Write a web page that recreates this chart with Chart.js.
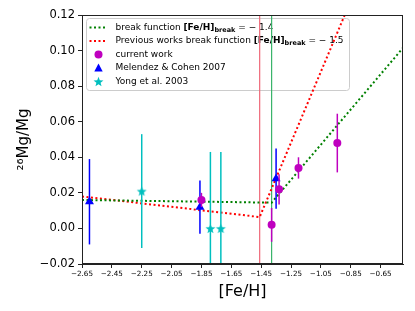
<!DOCTYPE html>
<html>
<head>
<meta charset="utf-8">
<script src="https://cdn.jsdelivr.net/npm/chart.js@4.4.1/dist/chart.umd.min.js"></script>
<style>
  body { margin: 0; background: #fff; }
</style>
</head>
<body>
<canvas id="mgChart" width="415" height="311"></canvas>
<script>
// values
const xTicks = [-2.65, -2.45, -2.25, -2.05, -1.85, -1.65, -1.45, -1.25, -1.05, -0.85, -0.65];
const yTicks = [-0.02, 0.00, 0.02, 0.04, 0.06, 0.08, 0.10, 0.12];
const xMin = -2.65, xMax = -0.5;

const currentX = [-1.85, -1.38, -1.33, -1.20, -0.94];
const currentY = [0.016, 0.002, 0.022, 0.034, 0.048];
const currentErr = [0.004, 0.0095, 0.0085, 0.006, 0.0165];

const melendezX = [-2.60, -1.86, -1.35];
const melendezY = [0.015, 0.012, 0.028];
const melendezErr = [0.024, 0.015, 0.017];

const yongX = [-2.25, -1.79, -1.72];
const yongY = [0.021, 0.000, 0.000];
const yongErr = [0.032, 0.043, 0.043];

const breakX = [-2.65, -1.38, -0.50];
const breakY = [0.016, 0.0145, 0.1015];
const prevX = [-2.65, -1.46, -0.85];
const prevY = [0.018, 0.0064, 0.128];

const breakLines = [-1.46, -1.38];

function pts(xs, ys) { return xs.map((x, i) => ({ x: x, y: ys[i] })); }

function makeStar(color, rOut, rIn) {
    const c = document.createElement('canvas');
    const s = Math.ceil(rOut * 2) + 2;
    c.width = s; c.height = s;
    const g = c.getContext('2d');
    g.beginPath();
    for (let i = 0; i < 10; i++) {
        const r = i % 2 ? rIn : rOut;
        const a = -Math.PI / 2 + i * Math.PI / 5;
        const px = s / 2 + r * Math.cos(a), py = s / 2 + r * Math.sin(a) + 0.5;
        if (i === 0) g.moveTo(px, py); else g.lineTo(px, py);
    }
    g.closePath();
    g.fillStyle = color;
    g.fill();
    return c;
}
const starImg = makeStar('#00bfbf', 5.2, 2.2);

function fmt(v) {
    const s = Math.abs(v).toFixed(2);
    return v < -1e-9 ? '\u2212' + s : s;
}

// vertical error bars, drawn under each dataset's markers
const errorBars = {
    id: 'errorBars',
    beforeDatasetDraw(chart, args) {
        const ds = chart.data.datasets[args.index];
        if (!ds.errors) return;
        const ctx = chart.ctx, area = chart.chartArea;
        const xs = chart.scales.x, ys = chart.scales.y;
        ctx.save();
        ctx.beginPath();
        ctx.rect(area.left, area.top, area.right - area.left, area.bottom - area.top);
        ctx.clip();
        ctx.strokeStyle = ds.backgroundColor;
        ctx.lineWidth = 1.5;
        ds.data.forEach((p, i) => {
            const px = xs.getPixelForValue(p.x);
            ctx.beginPath();
            ctx.moveTo(px, ys.getPixelForValue(p.y - ds.errors[i]));
            ctx.lineTo(px, ys.getPixelForValue(p.y + ds.errors[i]));
            ctx.stroke();
        });
        ctx.restore();
    }
};

// legend with the mixed bold / subscript labels, under the data like in the figure
const legendBox = {
    id: 'legendBox',
    beforeDatasetsDraw(chart) {
        const ctx = chart.ctx, a = chart.chartArea;
        ctx.save();
        const bx = a.left + 4.5, by = a.top + 3.5, bw = 263, bh = 72;
        ctx.fillStyle = 'rgba(255,255,255,0.8)';
        ctx.strokeStyle = '#cccccc';
        ctx.lineWidth = 1;
        ctx.beginPath();
        ctx.roundRect(bx, by, bw, bh, 3);
        ctx.fill();
        ctx.stroke();

        const fam = '"DejaVu Sans", sans-serif';
        const rows = [
            { kind: 'line', color: '#008000', parts: [['break function ', 0], ['[Fe/H]', 1], ['break', 2], [' = \u2212 1.4', 0]] },
            { kind: 'line', color: '#ff0000', parts: [['Previous works break function ', 0], ['[Fe/H]', 1], ['break', 2], [' = \u2212 1.5', 0]] },
            { kind: 'circle', color: '#bf00bf', parts: [['current work', 0]] },
            { kind: 'triangle', color: '#0000ff', parts: [['Melendez & Cohen 2007', 0]] },
            { kind: 'star', color: '#00bfbf', parts: [['Yong et al. 2003', 0]] }
        ];
        const sx0 = bx + 3, sx1 = bx + 21, mx = bx + 12, tx = bx + 29;
        rows.forEach((r, i) => {
            const y = by + 9 + i * 13.5;
            if (r.kind === 'line') {
                ctx.strokeStyle = r.color;
                ctx.lineWidth = 2;
                ctx.setLineDash([2, 2.5]);
                ctx.beginPath();
                ctx.moveTo(sx0, y); ctx.lineTo(sx1, y);
                ctx.stroke();
                ctx.setLineDash([]);
            } else if (r.kind === 'circle') {
                ctx.fillStyle = r.color;
                ctx.beginPath();
                ctx.arc(mx, y, 4, 0, Math.PI * 2);
                ctx.fill();
            } else if (r.kind === 'triangle') {
                ctx.fillStyle = r.color;
                ctx.beginPath();
                ctx.moveTo(mx, y - 4.5);
                ctx.lineTo(mx + 4.2, y + 3.5);
                ctx.lineTo(mx - 4.2, y + 3.5);
                ctx.closePath();
                ctx.fill();
            } else {
                ctx.drawImage(starImg, mx - starImg.width / 2, y - starImg.height / 2);
            }
            let x = tx;
            ctx.fillStyle = '#000';
            ctx.textBaseline = 'middle';
            r.parts.forEach(([t, style]) => {
                let dy = 0;
                if (style === 0) ctx.font = '9px ' + fam;
                else if (style === 1) ctx.font = 'bold 9px ' + fam;
                else { ctx.font = 'bold 6.5px ' + fam; dy = 2.5; }
                ctx.fillText(t, x, y + dy);
                x += ctx.measureText(t).width;
            });
        });
        ctx.restore();
    },
    afterDraw(chart) {
        const ctx = chart.ctx, a = chart.chartArea;
        ctx.save();
        ctx.strokeStyle = '#222';
        ctx.lineWidth = 1;
        ctx.strokeRect(a.left + 0.5, a.top + 0.5, a.right - a.left - 1, a.bottom - a.top - 1);
        ctx.restore();
    }
};

const ctx = document.getElementById('mgChart');
new Chart(ctx, {
    type: 'scatter',
    data: {
        datasets: [
            {
                label: 'current work',
                data: pts(currentX, currentY),
                errors: currentErr,
                backgroundColor: '#bf00bf',
                borderColor: '#bf00bf',
                pointStyle: 'circle',
                pointRadius: 4,
                borderWidth: 0,
                order: 1
            },
            {
                label: 'Melendez & Cohen 2007',
                data: pts(melendezX, melendezY),
                errors: melendezErr,
                backgroundColor: '#0000ff',
                borderColor: '#0000ff',
                pointStyle: 'triangle',
                pointRadius: 5.2,
                borderWidth: 0,
                order: 2
            },
            {
                label: 'Yong et al. 2003',
                data: pts(yongX, yongY),
                errors: yongErr,
                backgroundColor: '#00bfbf',
                borderColor: '#00bfbf',
                pointStyle: starImg,
                order: 3
            },
            {
                label: 'break function',
                data: pts(breakX, breakY),
                showLine: true,
                borderColor: '#008000',
                borderWidth: 2,
                borderDash: [2, 2.5],
                pointRadius: 0,
                order: 4
            },
            {
                label: 'previous break function',
                data: pts(prevX, prevY),
                showLine: true,
                borderColor: '#ff0000',
                borderWidth: 2,
                borderDash: [2, 2.5],
                pointRadius: 0,
                order: 5
            },
            {
                label: 'previous break',
                data: [{ x: breakLines[0], y: yTicks[0] }, { x: breakLines[0], y: yTicks[yTicks.length - 1] }],
                showLine: true,
                borderColor: 'rgb(238,104,120)',
                borderWidth: 1.2,
                pointRadius: 0,
                order: 6
            },
            {
                label: 'break',
                data: [{ x: breakLines[1], y: yTicks[0] }, { x: breakLines[1], y: yTicks[yTicks.length - 1] }],
                showLine: true,
                borderColor: 'rgb(56,180,106)',
                borderWidth: 1.2,
                pointRadius: 0,
                order: 7
            }
        ]
    },
    options: {
        responsive: false,
        animation: false,
        devicePixelRatio: 1,
        layout: { padding: { left: 0, right: 12, top: 15, bottom: 0 } },
        plugins: {
            legend: { display: false },
            tooltip: { enabled: false }
        },
        scales: {
            x: {
                type: 'linear',
                min: xMin,
                max: xMax,
                afterBuildTicks: s => { s.ticks = xTicks.map(v => ({ value: v })); },
                afterFit: s => { s.height = 47; },
                ticks: {
                    callback: v => fmt(v),
                    color: '#000',
                    font: { family: '"DejaVu Sans"', size: 7.2 },
                    padding: 2,
                    maxRotation: 0,
                    autoSkip: false
                },
                grid: { drawOnChartArea: false, drawTicks: true, tickLength: 4, color: '#222' },
                border: { display: true, color: '#222' },
                title: {
                    display: true,
                    text: '[Fe/H]',
                    color: '#000',
                    font: { family: '"DejaVu Sans"', size: 16 },
                    padding: { top: 0, bottom: 10 }
                }
            },
            y: {
                type: 'linear',
                min: yTicks[0],
                max: yTicks[yTicks.length - 1],
                afterBuildTicks: s => { s.ticks = yTicks.map(v => ({ value: v })); },
                afterFit: s => { s.width = 82; },
                ticks: {
                    callback: v => fmt(v),
                    color: '#000',
                    font: { family: '"DejaVu Sans"', size: 11.5 },
                    padding: 3,
                    autoSkip: false
                },
                grid: { drawOnChartArea: false, drawTicks: true, tickLength: 4, color: '#222' },
                border: { display: true, color: '#222' },
                title: {
                    display: true,
                    text: '\u00b2\u2076Mg/Mg',
                    color: '#000',
                    font: { family: '"DejaVu Sans"', size: 15 },
                    padding: { top: 15, bottom: 0 }
                }
            }
        }
    },
    plugins: [errorBars, legendBox]
});
</script>
</body>
</html>
